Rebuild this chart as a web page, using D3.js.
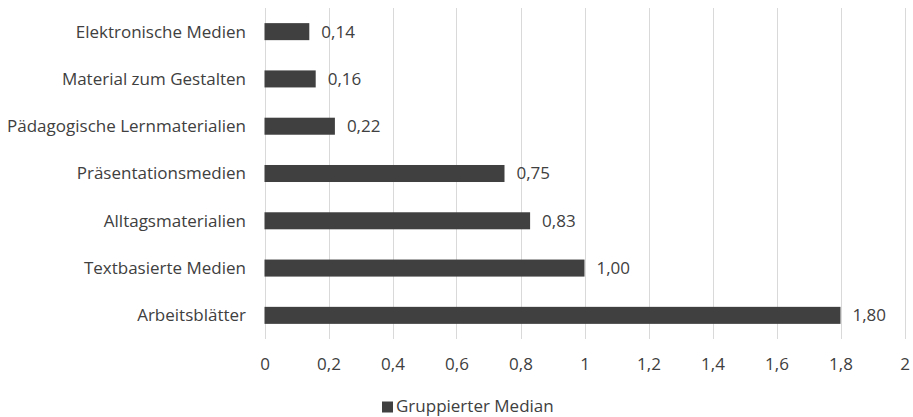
<!DOCTYPE html>
<html><head><meta charset="utf-8">
<script src="https://cdn.jsdelivr.net/npm/d3@7"></script>
<style>
body{margin:0;background:#fff;}
text{font-family:"Open Sans",sans-serif;fill:#404040;}
</style></head>
<body><svg id="c" width="913" height="417"></svg>
<script>
const categories = ["Elektronische Medien","Material zum Gestalten","Pädagogische Lernmaterialien","Präsentationsmedien","Alltagsmaterialien","Textbasierte Medien","Arbeitsblätter"];
const values = [0.14,0.16,0.22,0.75,0.83,1.00,1.80];
const valueLabels = ["0,14","0,16","0,22","0,75","0,83","1,00","1,80"];
const tickValues = [0,0.2,0.4,0.6,0.8,1,1.2,1.4,1.6,1.8,2];
const tickLabels = ["0","0,2","0,4","0,6","0,8","1","1,2","1,4","1,6","1,8","2"];
const seriesName = "Gruppierter Median";

(function(){
const svg = d3.select("#c");
const pLeft = 264.5, pRight = 904.5, pTop = 8, pBottom = 339;
const x = d3.scaleLinear().domain([0,2]).range([pLeft,pRight]);
const y = d3.scaleBand().domain(categories).range([pTop,pBottom]).paddingInner(0.64).paddingOuter(0.32);
const fs = 17;

svg.append("g").selectAll("line").data(tickValues).join("line")
  .attr("x1",d=>Math.round(x(d))+0.5).attr("x2",d=>Math.round(x(d))+0.5)
  .attr("y1",pTop).attr("y2",pBottom)
  .attr("stroke","#d9d9d9").attr("stroke-width",1);

svg.append("g").selectAll("rect").data(values).join("rect")
  .attr("x",x(0)).attr("y",(d,i)=>y(categories[i]))
  .attr("width",d=>x(d)-x(0)).attr("height",y.bandwidth())
  .attr("fill","#404040");

svg.append("g").selectAll("text").data(values).join("text")
  .attr("x",d=>x(d)+12).attr("y",(d,i)=>y(categories[i])+y.bandwidth()/2)
  .attr("dy","0.35em").attr("font-size",fs)
  .text((d,i)=>valueLabels[i]);

svg.append("g").selectAll("text").data(categories).join("text")
  .attr("x",246).attr("y",d=>y(d)+y.bandwidth()/2)
  .attr("dy","0.35em").attr("text-anchor","end").attr("font-size",fs)
  .text(d=>d);

const ax = svg.append("g").attr("transform",`translate(0,${pBottom})`)
  .call(d3.axisBottom(x).tickValues(tickValues).tickFormat((d,i)=>tickLabels[i]).tickSize(0).tickPadding(19));
ax.select(".domain").remove();
ax.selectAll("text").attr("font-size",fs).style("font-family","'Open Sans',sans-serif").style("fill","#404040");

const lg = svg.append("g");
lg.append("rect").attr("x",382).attr("y",401.5).attr("width",11).attr("height",11).attr("fill","#404040");
lg.append("text").attr("x",396).attr("y",406.5).attr("dy","0.35em").attr("font-size",fs).text(seriesName);
})();
</script></body></html>
